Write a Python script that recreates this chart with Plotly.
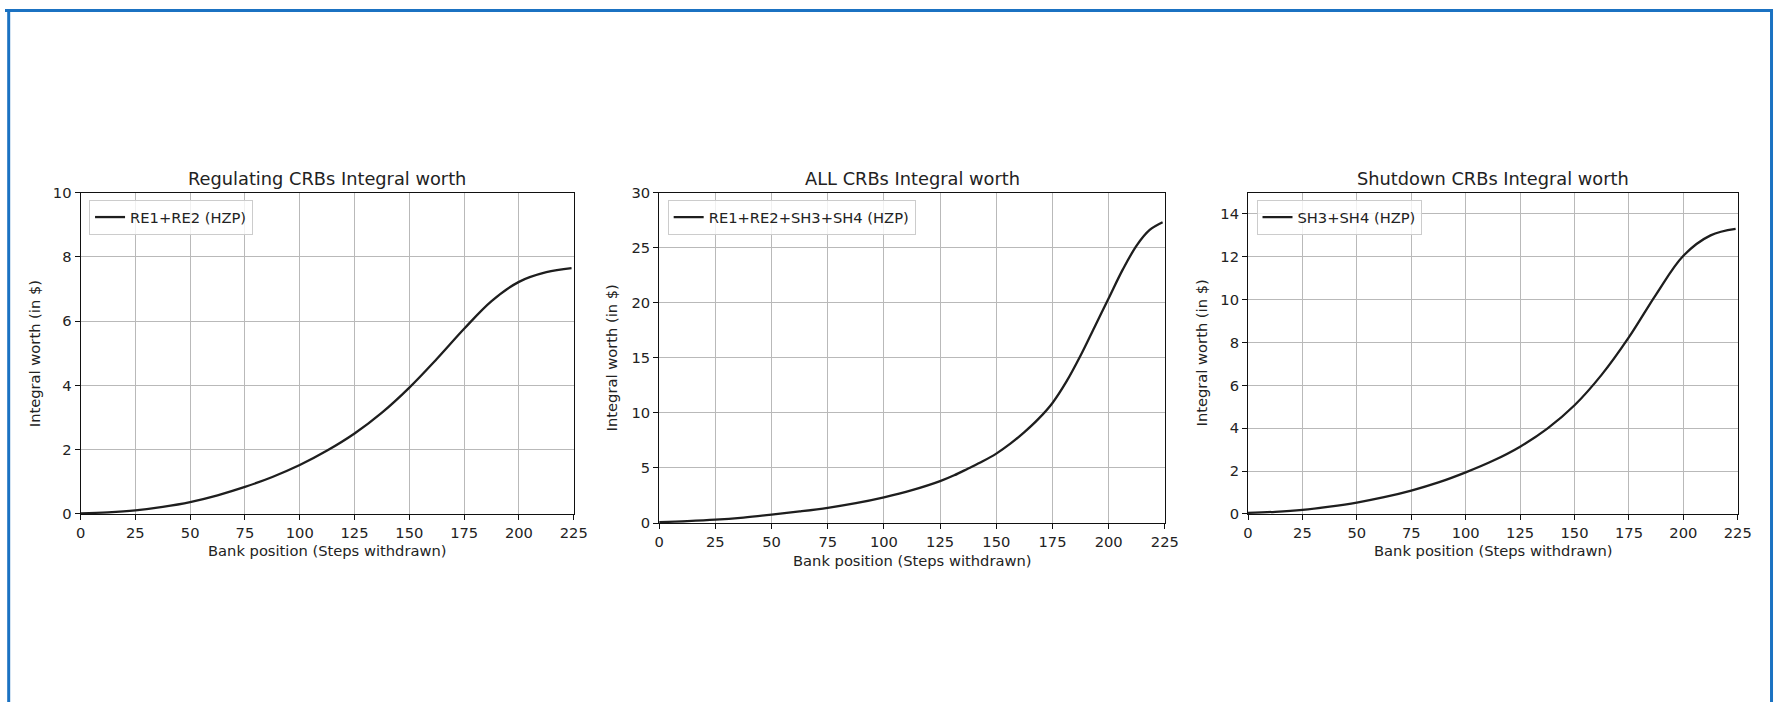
import plotly.graph_objects as go

W, H = 1787, 710

# The photographed page shows the figure slightly scaled and offset; positions below
# are given in picture pixels and mapped back to figure pixels.
SX, OX = 0.99, 3.0
SY, OY = 0.976, 8.0

# ---- data ----
steps = [0, 12.5, 25, 37.5, 50, 62.5, 75, 87.5, 100, 112.5, 125, 137.5, 150,
         162.5, 175, 187.5, 200, 212.5, 224]

reg_worth = [0.02, 0.05, 0.11, 0.22, 0.37, 0.58, 0.84, 1.15, 1.52, 1.97, 2.50,
             3.15, 3.93, 4.82, 5.76, 6.62, 7.22, 7.52, 7.65]

all_steps = [0, 12.5, 25, 37.5, 50, 62.5, 75, 87.5, 100, 112.5, 125, 131.25, 137.5,
             143.75, 150, 156.25, 162.5, 168.75, 175, 181.25, 187.5, 193.75, 200,
             206.25, 212.5, 218.25, 224]
all_worth = [0.08, 0.17, 0.30, 0.50, 0.76, 1.05, 1.38, 1.80, 2.33, 2.98, 3.80, 4.33, 4.95,
             5.58, 6.30, 7.20, 8.25, 9.45, 10.90, 12.85, 15.20, 17.80, 20.40,
             23.00, 25.20, 26.60, 27.30]

shut_worth = [0.05, 0.10, 0.19, 0.34, 0.53, 0.78, 1.09, 1.47, 1.94, 2.48, 3.14,
              3.98, 5.07, 6.50, 8.25, 10.25, 12.05, 13.00, 13.30]

titles = ["Regulating CRBs Integral worth", "ALL CRBs Integral worth",
          "Shutdown CRBs Integral worth"]
labels = ["RE1+RE2 (HZP)", "RE1+RE2+SH3+SH4 (HZP)", "SH3+SH4 (HZP)"]
x_title = "Bank position (Steps withdrawn)"
y_title = "Integral worth (in $)"
x_ticks = [0, 25, 50, 75, 100, 125, 150, 175, 200, 225]
y_ranges = [[0, 10], [0, 30], [0, 15]]
y_dticks = [2, 5, 2]

# ---- layout geometry (picture pixels) ----
boxes = [  # left, right, top, bottom
    (78.6, 572.1, 191.5, 512.9),
    (657.6, 1163.6, 191.5, 522.0),
    (1246.8, 1736.9, 191.5, 512.9),
]
ytitle_x = [32, 610, 1200]


def px(x):
    return ((x - OX) / SX) / W


def py(y):
    return 1 - ((y - OY) / SY) / H


FONT = "DejaVu Sans"
TXT = "#222222"

fig = go.Figure()
series = [(steps, reg_worth), (all_steps, all_worth), (steps, shut_worth)]

annotations = []
layout = dict(width=W, height=H, margin=dict(l=0, r=0, t=0, b=0),
              paper_bgcolor="white", plot_bgcolor="white",
              font=dict(family=FONT, size=14.7, color=TXT), showlegend=True)

for i, ((xs, ys), (l, r, t, b)) in enumerate(zip(series, boxes)):
    n = "" if i == 0 else str(i + 1)
    xa, ya = "x" + n, "y" + n
    leg = "legend" + n
    fig.add_trace(go.Scatter(x=xs, y=ys, mode="lines", name=labels[i],
                             line=dict(color="#1e1e1e", width=2.3, shape="spline", smoothing=1.0),
                             xaxis=xa, yaxis=ya, legend=leg))
    axcommon = dict(showline=True, mirror=True, linecolor="#111111", linewidth=1.1,
                    ticks="outside", ticklen=5, tickcolor="#111111", tickwidth=1,
                    showgrid=True, gridcolor="#b9b9b9", gridwidth=1, zeroline=False,
                    tickfont=dict(family=FONT, size=14.7, color=TXT))
    layout["xaxis" + n] = dict(axcommon, domain=[px(l), px(r)], range=[0, 225],
                               tickvals=x_ticks, anchor=ya)
    layout["yaxis" + n] = dict(axcommon, domain=[py(b), py(t)],
                               range=y_ranges[i], dtick=y_dticks[i], anchor=xa)
    layout[leg] = dict(x=px(l + 8.5), y=py(t + 7.5), xanchor="left", yanchor="top",
                       bgcolor="rgba(255,255,255,0.8)", bordercolor="#cccccc", borderwidth=1,
                       font=dict(family=FONT, size=14.7, color=TXT))
    annotations.append(dict(text=titles[i], xref="paper", yref="paper",
                            x=px((l + r) / 2), y=py(177), xanchor="center", yanchor="middle",
                            showarrow=False, font=dict(family=FONT, size=17.8, color=TXT)))
    annotations.append(dict(text=x_title, xref="paper", yref="paper",
                            x=px((l + r) / 2), y=py(b + 37), xanchor="center", yanchor="middle",
                            showarrow=False, font=dict(family=FONT, size=14.7, color=TXT)))
    annotations.append(dict(text=y_title, xref="paper", yref="paper", textangle=-90,
                            x=px(ytitle_x[i]), y=py((t + b) / 2), xanchor="center", yanchor="middle",
                            showarrow=False, font=dict(family=FONT, size=14.7, color=TXT)))

layout["annotations"] = annotations
blue = "#1b72c2"
layout["shapes"] = [
    dict(type="line", xref="paper", yref="paper", x0=0, x1=1, y0=1 - 1.5 / H, y1=1 - 1.5 / H,
         line=dict(color=blue, width=3)),
    dict(type="line", xref="paper", yref="paper", x0=px(6.7), x1=px(6.7), y0=0, y1=1,
         line=dict(color=blue, width=3)),
    dict(type="line", xref="paper", yref="paper", x0=1 - 1.5 / W, x1=1 - 1.5 / W, y0=0, y1=1,
         line=dict(color=blue, width=3)),
]
fig.update_layout(**layout)
fig.write_html("out.html")
